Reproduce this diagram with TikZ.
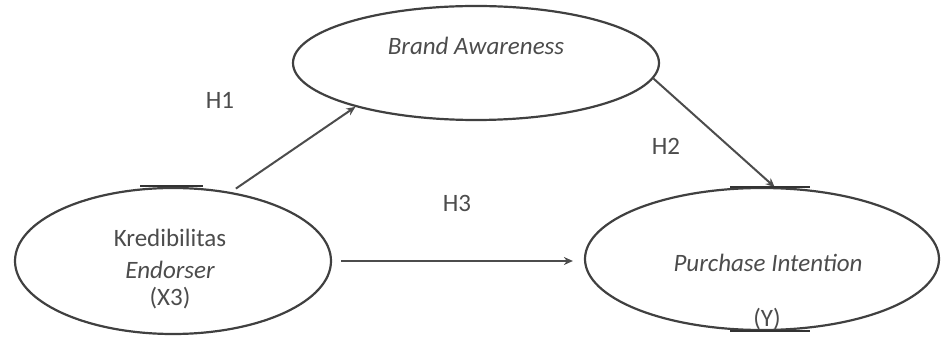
\documentclass[tikz,border=0pt]{standalone}
\usepackage{fontspec}
\setmainfont{Carlito}
\usetikzlibrary{shapes.geometric,arrows.meta}
\begin{document}
\begin{tikzpicture}[x=1pt,y=-1pt,
  construct/.style={ellipse,draw=black!75,line width=2.2pt,inner sep=0pt},
  lbl/.style={text=black!70,font=\fontsize{25}{30}\selectfont,inner sep=0pt},
  ilbl/.style={lbl,font=\fontsize{25}{30}\selectfont\itshape},
  path/.style={draw=black!70,line width=2pt,-{Stealth[length=9pt,width=8pt]}},
  rule/.style={draw=black!80,line width=1.2pt}]
  \useasboundingbox (0,0) rectangle (943,344);
  % latent constructs
  \node[construct,minimum width=366pt,minimum height=114pt] (ba) at (476,63) {};
  \node[construct,minimum width=316pt,minimum height=146pt] (kred) at (173,261) {};
  \node[construct,minimum width=354pt,minimum height=142pt] (pi) at (762,259) {};
  % construct labels
  \node[ilbl] (baT) at (476,46) {Brand Awareness};
  \node[lbl] (kT1) at (170,238) {Kredibilitas};
  \node[ilbl] (kT2) at (170,270) {Endorser};
  \node[lbl] (kT3) at (170,298) {(X3)};
  \node[ilbl] (piT) at (768,263) {Purchase Intention};
  \node[lbl] (piT2) at (767,319) {(Y)};
  % hypothesis labels
  \node[lbl] (h1) at (220,100) {H1};
  \node[lbl] (h2) at (666,146) {H2};
  \node[lbl] (h3) at (457,203) {H3};
  % hypothesised paths
  \draw[path,shorten <=6pt] (kred.50) -- (ba.200);
  \draw[path] (ba.-5) -- (pi.80);
  \draw[path,shorten <=9pt,shorten >=11pt] (kred.east) -- (kred.east -| pi.west);
  % short rules on the ellipse outlines
  \coordinate (r1a) at (140,186); \coordinate (r1b) at (203,186);
  \coordinate (r2a) at (730,187); \coordinate (r2b) at (810,187);
  \coordinate (r3a) at (730,331); \coordinate (r3b) at (810,331);
  \draw[rule] (r1a) -- (r1b);
  \draw[rule] (r2a) -- (r2b);
  \draw[rule] (r3a) -- (r3b);
\end{tikzpicture}
\end{document}
